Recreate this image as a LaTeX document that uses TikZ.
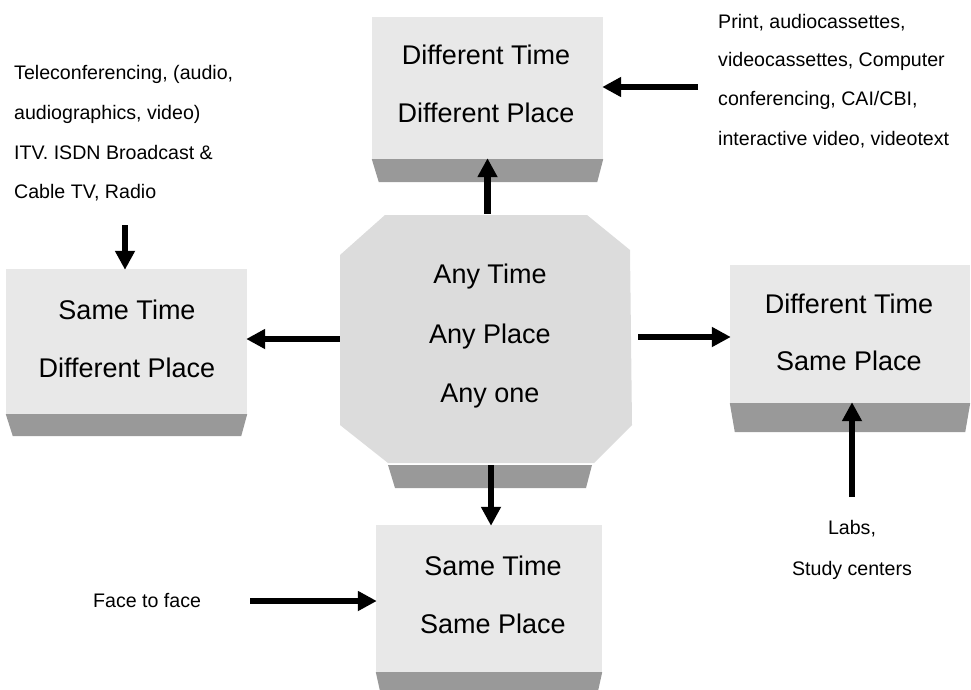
\documentclass[tikz,border=0pt]{standalone}
\usepackage{fontspec}
\setmainfont{Liberation Sans}
\usetikzlibrary{arrows.meta,calc}
\definecolor{slabface}{HTML}{E8E8E8}
\definecolor{hubface}{HTML}{DCDCDC}
\definecolor{slabedge}{HTML}{999999}
\begin{document}
\begin{tikzpicture}[x=1pt,y=-1pt,
  slab/.style={fill=slabface, draw=none, inner sep=0pt, rectangle},
  band/.style={fill=slabedge, draw=none},
  boxtext/.style={font=\fontsize{27}{27}\selectfont, anchor=base, inner sep=0pt},
  note/.style={font=\fontsize{19.6}{19.6}\selectfont, anchor=base west, inner sep=0pt},
  notec/.style={font=\fontsize{19.6}{19.6}\selectfont, anchor=base, inner sep=0pt},
  link/.style={line width=6.5pt, -{Triangle[length=19pt,width=19pt]}, shorten >=-1pt}]
\useasboundingbox (0,0) rectangle (971,690);

% central octagonal slab
\fill[hubface] (385,215) -- (587,215) -- (630,250) -- (632,425) -- (594,463)
  -- (388,463) -- (340,425) -- (340,255) -- cycle;
\fill[band] (388,465) -- (592,465) -- (586,488) -- (395,488) -- cycle;
\node[inner sep=0pt, minimum width=292pt, minimum height=248pt] (hub) at (486,339) {};

% four outer slabs
\node[slab, minimum width=231pt, minimum height=142pt] (dtdp) at (487.5,88) {};
\fill[band] (dtdp.south west) -- (dtdp.south east) -- ++(-6,23)
  -- ($(dtdp.south west)+(7,23)$) -- cycle;

\node[slab, minimum width=241pt, minimum height=145pt] (stdp) at (126.5,341.5) {};
\fill[band] (stdp.south west) -- (stdp.south east) -- ++(-6,22)
  -- ($(stdp.south west)+(7,22)$) -- cycle;

\node[slab, minimum width=240pt, minimum height=138pt] (dtsp) at (850,334) {};
\fill[band] (dtsp.south west) -- (dtsp.south east) -- ++(-5,29)
  -- ($(dtsp.south west)+(5,29)$) -- cycle;

\node[slab, minimum width=226pt, minimum height=147pt] (stsp) at (489,598.5) {};
\fill[band] (stsp.south west) -- (stsp.south east) -- ++(-4,18)
  -- ($(stsp.south west)+(4,18)$) -- cycle;

% slab captions
\node[boxtext] (hub1) at (490,283) {Any Time};
\node[boxtext] (hub2) at (490,343) {Any Place};
\node[boxtext] (hub3) at (490,402) {Any one};

\node[boxtext] (dtdp1) at (486,65) {Different Time};
\node[boxtext] (dtdp2) at (486,122) {Different Place};

\node[boxtext] (stdp1) at (127,319) {Same Time};
\node[boxtext] (stdp2) at (127,377) {Different Place};

\node[boxtext] (dtsp1) at (849,313) {Different Time};
\node[boxtext] (dtsp2) at (849,370) {Same Place};

\node[boxtext] (stsp1) at (493,575) {Same Time};
\node[boxtext] (stsp2) at (493,633) {Same Place};

% media notes
\node[note] (tele1) at (14,80)  {Teleconferencing, (audio,};
\node[note] (tele2) at (14,120) {audiographics, video)};
\node[note] (tele3) at (14,159) {ITV. ISDN Broadcast \&};
\node[note] (tele4) at (14,198) {Cable TV, Radio};

\node[note] (print1) at (718,29)  {Print, audiocassettes,};
\node[note] (print2) at (718,67)  {videocassettes, Computer};
\node[note] (print3) at (718,106) {conferencing, CAI/CBI,};
\node[note] (print4) at (718,145) {interactive video, videotext};

\node[note] (face) at (93,607) {Face to face};

\node[notec] (labs1) at (852,534) {Labs,};
\node[notec] (labs2) at (852,575) {Study centers};

% arrow feet
\coordinate (telefoot) at (125,225);
\coordinate (printfoot) at (698,87);
\coordinate (facefoot) at (250,601);
\coordinate (labsfoot) at (852,497);

% connectors
\draw[link] (hub.north -| dtdp.south) ++(0,-1) -- (dtdp.south);
\draw[link] (hub.west |- 0,339) -- (stdp.east |- 0,339);
\draw[link] (hub.east |- 0,337) ++(6,0) -- (dtsp.west |- 0,337);
\draw[link] ($(hub.south)+(5,2)$) -- (stsp.north -| 491,0);
\draw[link] (telefoot) -- (telefoot |- stdp.north);
\draw[link] (printfoot) -- (printfoot -| dtdp.east);
\draw[link] (facefoot) -- (facefoot -| stsp.west);
\draw[link] (labsfoot) -- (labsfoot |- dtsp.south);
\end{tikzpicture}
\end{document}
